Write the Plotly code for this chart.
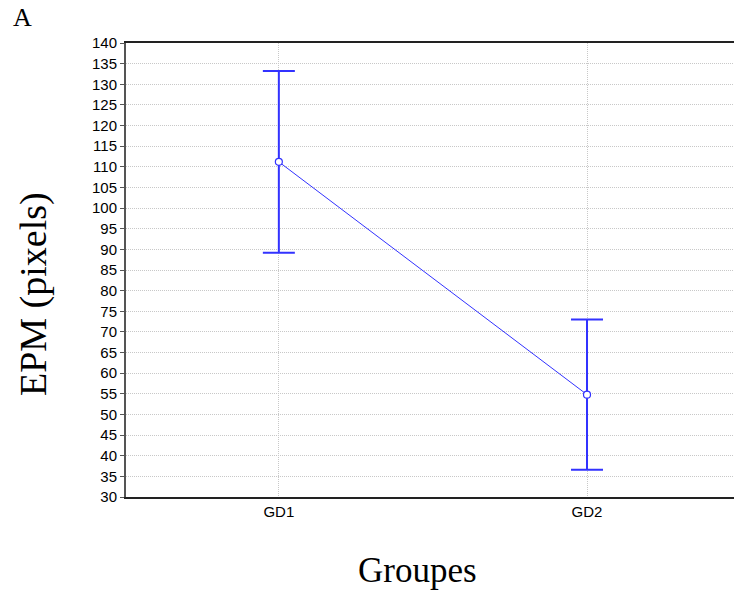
import plotly.graph_objects as go

groups = ["GD1", "GD2"]
means = [111.2, 54.8]
errors = [22.0, 18.2]
y_ticks = list(range(30, 145, 5))

blue = "rgb(50,50,255)"
serif = "Liberation Serif, Times New Roman, serif"

fig = go.Figure()
fig.add_trace(go.Scatter(
    x=[1, 2], y=means,
    mode="lines+markers",
    line=dict(color=blue, width=1),
    marker=dict(symbol="circle", size=7, color="white", line=dict(width=1.2, color=blue)),
    error_y=dict(type="data", array=errors, visible=True, color=blue, thickness=2, width=16),
    showlegend=False,
))

fig.update_layout(
    width=734, height=592,
    margin=dict(l=126, r=0, t=43, b=95),
    paper_bgcolor="white", plot_bgcolor="white",
    font=dict(family="Liberation Sans, Arial", size=15, color="black"),
    xaxis=dict(
        range=[0.504, 2.477],
        tickmode="array", tickvals=[1, 2], ticktext=groups,
        showgrid=True, gridcolor="#c8c8c8", griddash="1px,1px", gridwidth=1,
        showline=True, linecolor="#222", linewidth=2, mirror=True,
        ticks="", zeroline=False,
    ),
    yaxis=dict(
        range=[30, 140],
        tickmode="array", tickvals=y_ticks, ticktext=[str(v) for v in y_ticks],
        showgrid=True, gridcolor="#c8c8c8", griddash="1px,1px", gridwidth=1,
        showline=True, linecolor="#555", linewidth=2,
        ticks="outside", ticklen=4, tickcolor="#555",
        zeroline=False,
    ),
    annotations=[
        dict(text="A", x=(23 - 126) / 608, y=(497 - 18) / 454, xref="paper", yref="paper",
             showarrow=False, xanchor="center", yanchor="middle",
             font=dict(family=serif, size=26)),
        dict(text="EPM (pixels)", xref="paper", yref="paper", x=(33 - 126) / 608, y=0.447,
             textangle=-90, showarrow=False, xanchor="center", yanchor="middle",
             font=dict(family=serif, size=38)),
        dict(text="Groupes", xref="paper", yref="paper", x=0.479, y=-0.161,
             showarrow=False, xanchor="center", yanchor="middle",
             font=dict(family=serif, size=35)),
    ],
)

fig.write_html(
    "out.html",
    config={"displayModeBar": False},
    post_script="document.body.style.margin='0';document.body.style.overflow='hidden';",
)
